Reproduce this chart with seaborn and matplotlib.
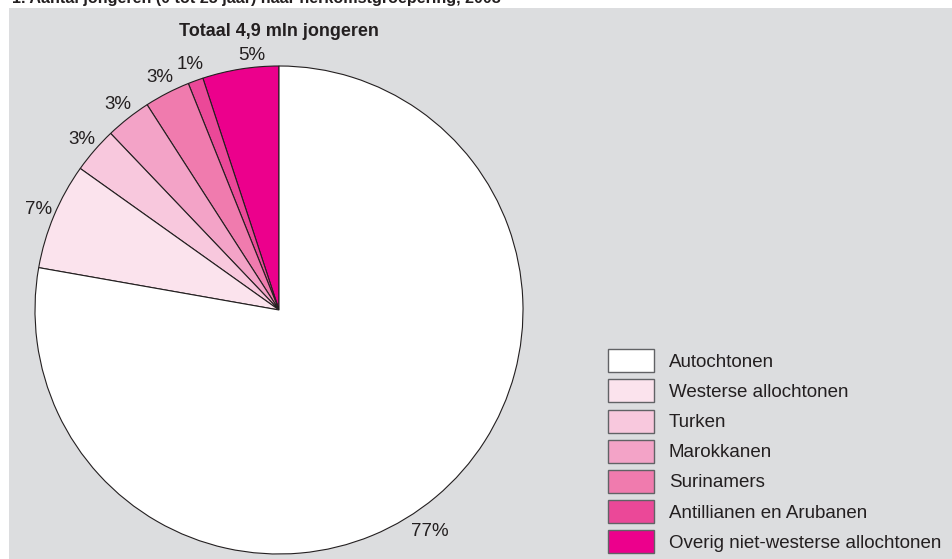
import matplotlib
matplotlib.use("Agg")
import matplotlib.pyplot as plt
from matplotlib.patches import Rectangle
import numpy as np
import seaborn as sns

# ---- data ----
categories = ["Autochtonen", "Westerse allochtonen", "Turken", "Marokkanen",
              "Surinamers", "Antillianen en Arubanen", "Overig niet-westerse allochtonen"]
percentages = [77, 7, 3, 3, 3, 1, 5]
colors = ["#ffffff", "#fbe3ed", "#f8c8dd", "#f3a3c7", "#f07bae", "#eb4898", "#ec008c"]
title_text = "1. Aantal jongeren (0 tot 25 jaar) naar herkomstgroepering, 2008"
subtitle_text = "Totaal 4,9 mln jongeren"

# label placement style (radial distance, angular shift in degrees), per category
label_dist = [1.098, 1.07, 1.07, 1.07, 1.07, 1.07, 1.051]
label_shift = [-5.7, 0, 0, 0, 0, 0, -3.0]

sns.set_theme(style="white")
plt.rcParams["font.family"] = ["Liberation Sans", "DejaVu Sans"]

W, H = 952, 559
fig = plt.figure(figsize=(W / 100, H / 100), dpi=100)
fig.patch.set_facecolor("white")

# gray panel
fig.patches.append(Rectangle((9 / W, 0), 1 - 9 / W, 1 - 8 / H, transform=fig.transFigure,
                             facecolor="#dcdddf", edgecolor="none", zorder=-5))

fig.text(12 / W, 1 - 3.5 / H, title_text, fontsize=11.6, fontweight="bold",
         color="#231f20", ha="left", va="baseline")

# pie axes: centre (279, 310), radius 244 px
cx, cy, r = 279, 310, 244
ax = fig.add_axes([(cx - r) / W, (H - cy - r) / H, 2 * r / W, 2 * r / H])
ax.set_facecolor("none")

# plot counter-clockwise from 12 o'clock, starting with the last category
order = list(range(len(categories)))[::-1]
vals = [percentages[i] for i in order]
cols = [colors[i] for i in order]
labs = [f"{percentages[i]}%" for i in order]

wedges, texts = ax.pie(vals, colors=cols, labels=labs, startangle=90, counterclock=True,
                       labeldistance=1.07,
                       wedgeprops=dict(edgecolor="#231f20", linewidth=0.8),
                       textprops=dict(fontsize=13.5, color="#231f20"))
for w, t, i in zip(wedges, texts, order):
    mid = np.deg2rad((w.theta1 + w.theta2) / 2 + label_shift[i])
    d = label_dist[i]
    t.set_position((d * np.cos(mid), d * np.sin(mid)))
    t.set_ha("center")
    t.set_va("center")
ax.set_xlim(-1, 1)
ax.set_ylim(-1, 1)
ax.set_aspect("equal")
ax.axis("off")

ax.text(0, 1.143, subtitle_text, ha="center", va="center", fontsize=13,
        fontweight="bold", color="#231f20")

# legend
handles = [Rectangle((0, 0), 1, 1, facecolor=c, edgecolor="#616265", linewidth=1.0) for c in colors]
leg = fig.legend(handles, categories, loc="lower left", bbox_to_anchor=(608 / W, 6 / H),
                 frameon=False, fontsize=13.5, handlelength=2.45, handleheight=1.51,
                 handletextpad=0.8, labelspacing=0.38, borderpad=0, borderaxespad=0)
for t in leg.get_texts():
    t.set_color("#231f20")

fig.savefig("out.png", dpi=100)
